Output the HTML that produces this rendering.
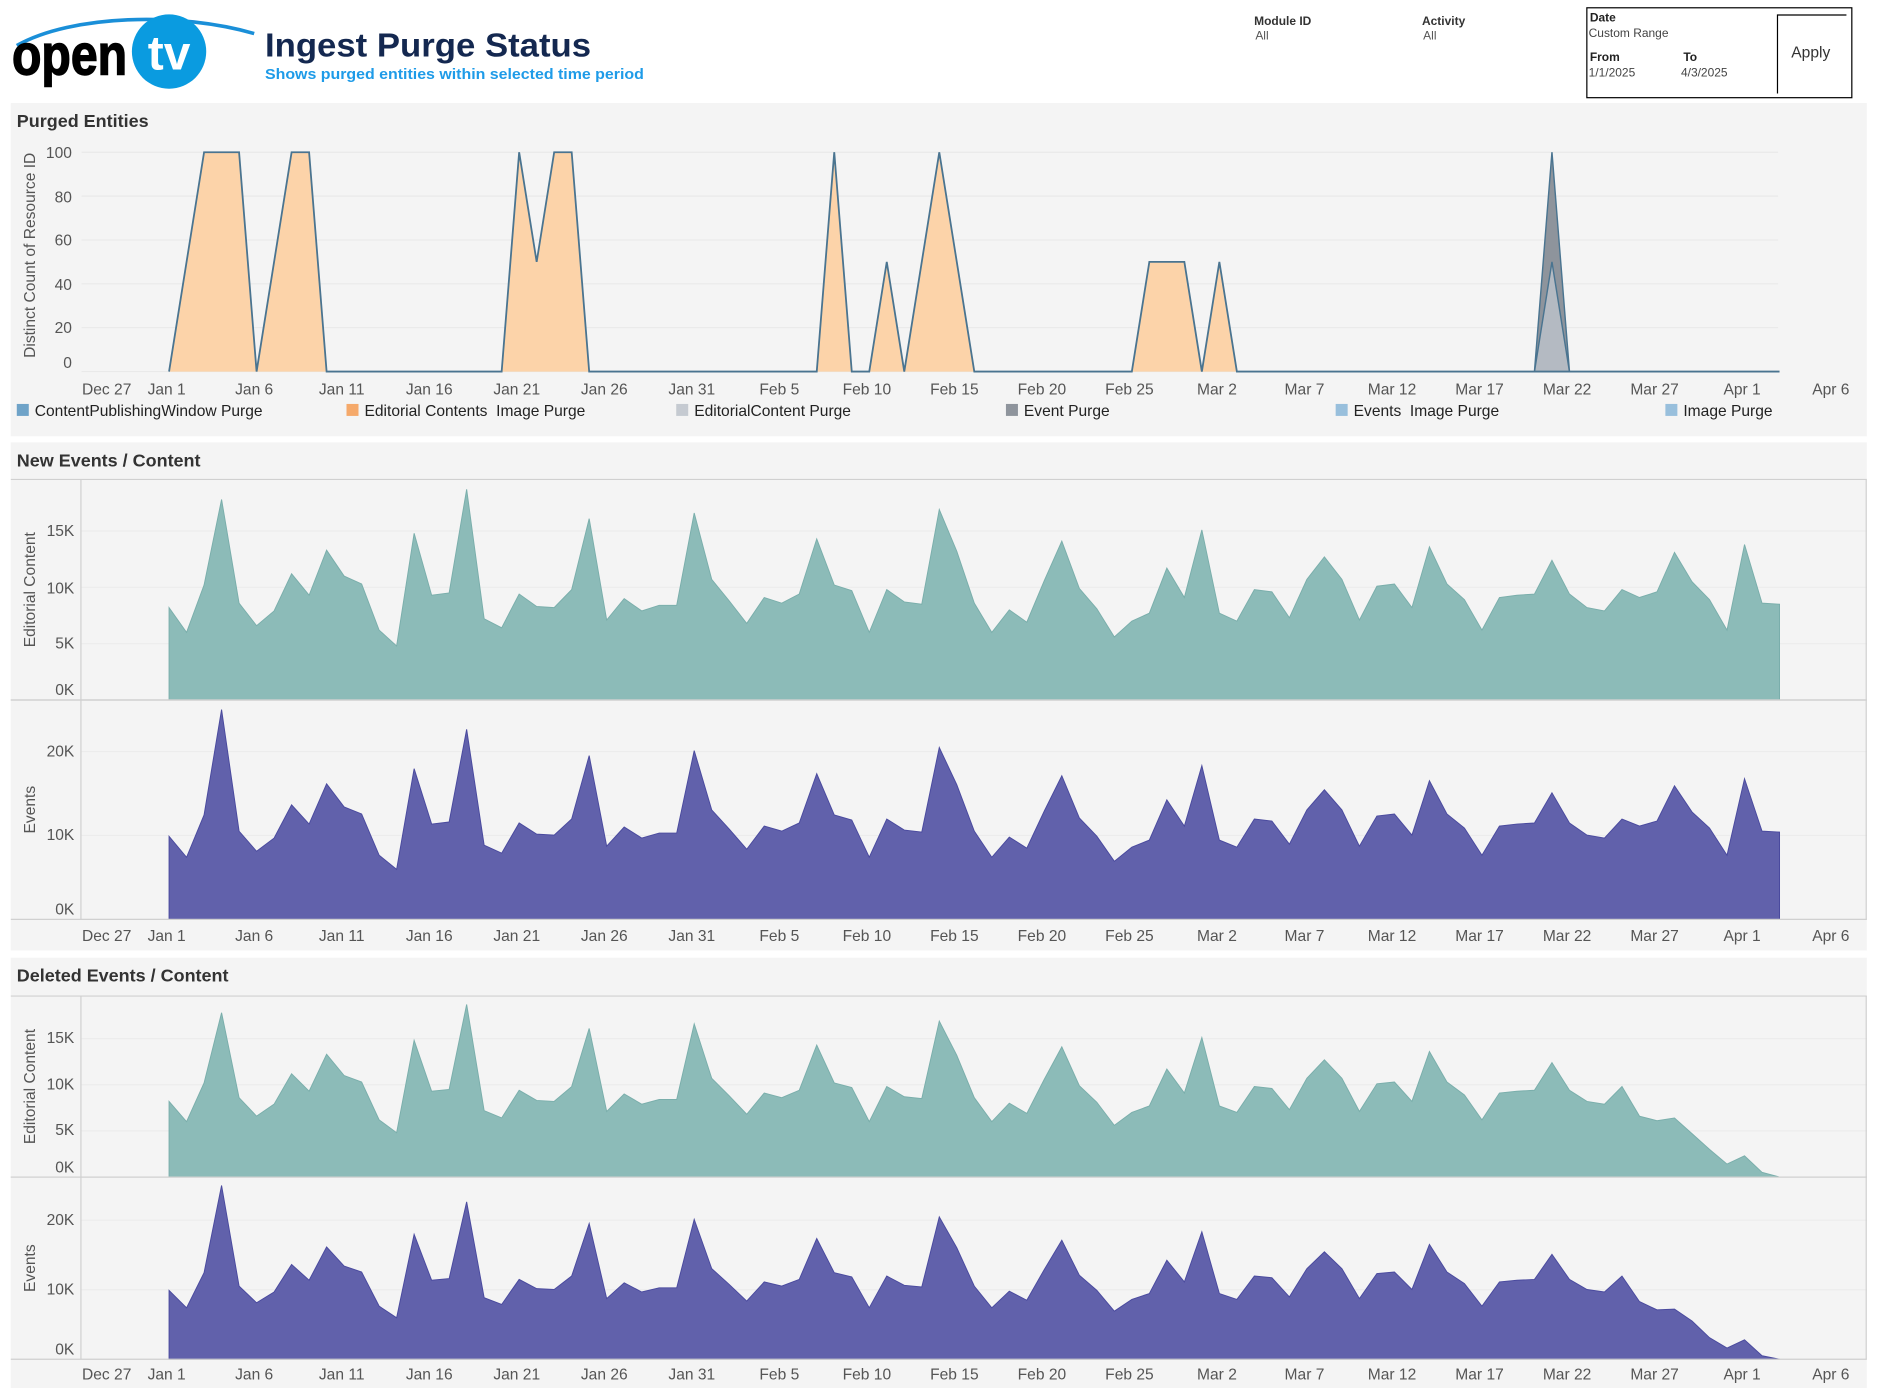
<!DOCTYPE html>
<html><head><meta charset="utf-8"><style>
html,body{margin:0;padding:0;background:#fff;}
svg{display:block;font-family:"Liberation Sans",sans-serif;}
</style></head><body>
<svg id="s" width="1880" height="1400" viewBox="0 0 1568 1168" preserveAspectRatio="none" xmlns="http://www.w3.org/2000/svg">
<rect width="1568" height="1168" fill="#fff"/>
<path d="M14,38 C60,12 150,10 212,28" fill="none" stroke="#1a8fd8" stroke-width="3"/>
<text x="10" y="62" font-size="48" font-weight="bold" fill="#000" stroke="#000" stroke-width="1.2" textLength="96" lengthAdjust="spacingAndGlyphs">open</text>
<circle cx="141" cy="43" r="31" fill="#0a9be0"/>
<text x="141" y="58" font-size="40" font-weight="bold" fill="#fff" text-anchor="middle">tv</text>
<text x="221" y="47" font-size="28" font-weight="bold" fill="#142850" textLength="272" lengthAdjust="spacingAndGlyphs">Ingest Purge Status</text>
<text x="221" y="66" font-size="12.5" font-weight="bold" fill="#1e9be8" textLength="316" lengthAdjust="spacingAndGlyphs">Shows purged entities within selected time period</text>
<text x="1046" y="21" font-size="10" font-weight="bold" fill="#333">Module ID</text>
<text x="1047" y="33" font-size="10" fill="#555">All</text>
<text x="1186" y="21" font-size="10" font-weight="bold" fill="#333">Activity</text>
<text x="1187" y="33" font-size="10" fill="#555">All</text>
<rect x="1323.5" y="6.5" width="221" height="75" fill="none" stroke="#000" stroke-width="1"/>
<text x="1326" y="18" font-size="10" font-weight="bold" fill="#222">Date</text>
<text x="1325" y="31" font-size="10" fill="#444">Custom Range</text>
<text x="1326" y="51" font-size="10" font-weight="bold" fill="#222">From</text>
<text x="1404" y="51" font-size="10" font-weight="bold" fill="#222">To</text>
<text x="1325" y="64" font-size="10" fill="#444">1/1/2025</text>
<text x="1402" y="64" font-size="10" fill="#444">4/3/2025</text>
<path d="M1482.5,78 V12.5 H1540" fill="none" stroke="#000" stroke-width="1"/>
<text x="1494" y="48" font-size="13" fill="#333">Apply</text>
<rect x="9" y="86" width="1548" height="278" fill="#f4f4f4"/>
<rect x="9" y="369" width="1548" height="424" fill="#f4f4f4"/>
<rect x="9" y="799" width="1548" height="359" fill="#f4f4f4"/>
<text x="14" y="106" font-size="15" font-weight="bold" fill="#333">Purged Entities</text>
<text x="14" y="389" font-size="15" font-weight="bold" fill="#333">New Events / Content</text>
<text x="14" y="819" font-size="15" font-weight="bold" fill="#333">Deleted Events / Content</text>
<g id="g"></g>
</svg>
<script>
var g=document.getElementById('g'),h='';
function X(d){return 141+14.6*d;}
function T(x,y,s,o){h+='<text x="'+x+'" y="'+y+'" '+(o||'')+'>'+s+'</text>';}
var y0=310,py=1.83;
for(var v=0;v<=100;v+=20){var yy=y0-v*py;h+='<line x1="68" x2="1483" y1="'+yy+'" y2="'+yy+'" stroke="#e9e9e9"/>';}
[[100,132],[80,169],[60,205],[40,242],[20,278],[0,307]].forEach(function(a){T(60,a[1],a[0],'font-size="13" fill="#555" text-anchor="end"');});
T(0,0,'Distinct Count of Resource ID','font-size="13" fill="#555" text-anchor="middle" transform="translate(29,213) rotate(-90)"');
var pts=[[0,0],[2,100],[4,100],[5,0],[7,100],[8,100],[9,0],[19,0],[20,100],[21,50],[22,100],[23,100],[24,0],[37,0],[38,100],[39,0],[40,0],[41,50],[42,0],[44,100],[46,0],[55,0],[56,50],[58,50],[59,0],[60,50],[61,0],[78,0],[79,0],[80,0],[92,0]];
function P(p){var s='M'+X(p[0][0])+','+y0;p.forEach(function(q){s+=' L'+X(q[0])+','+(y0-q[1]*py);});s+=' L'+X(p[p.length-1][0])+','+y0+'Z';return s;}
h+='<path d="'+P(pts)+'" fill="#fcd3a9"/>';
h+='<path d="'+P([[78,0],[79,100],[80,0]])+'" fill="#8e949c"/>';
h+='<path d="'+P([[78,0],[79,50],[80,0]])+'" fill="#b4bac2"/>';
var l='';pts.forEach(function(q,i){l+=(i?' L':'M')+X(q[0])+','+(y0-q[1]*py);});
h+='<path d="'+l+'" fill="none" stroke="#4a7490" stroke-width="1.5"/>';
h+='<path d="M'+X(78)+','+y0+' L'+X(79)+','+(y0-100*py)+' L'+X(80)+','+y0+' M'+X(78)+','+y0+' L'+X(79)+','+(y0-50*py)+' L'+X(80)+','+y0+'" fill="none" stroke="#4a7490" stroke-width="1.2"/>';
var labs=['Dec 27','Jan 1','Jan 6','Jan 11','Jan 16','Jan 21','Jan 26','Jan 31','Feb 5','Feb 10','Feb 15','Feb 20','Feb 25','Mar 2','Mar 7','Mar 12','Mar 17','Mar 22','Mar 27','Apr 1','Apr 6'];
function XL(y){labs.forEach(function(s,i){var x=i==0?89:139+73*(i-1);if(i==labs.length-1)x=1527;T(x,y,s,'font-size="13" fill="#555" text-anchor="middle"');});}
XL(329);
var lg=[['#6fa3c8','ContentPublishingWindow Purge'],['#f5a96a','Editorial Contents  Image Purge'],['#c5cad1','EditorialContent Purge'],['#8e949c','Event Purge'],['#98bfdc','Events  Image Purge'],['#98bfdc','Image Purge']];
lg.forEach(function(a,i){var x=14+275*i;h+='<rect x="'+x+'" y="337" width="10" height="10" fill="'+a[0]+'"/>';T(x+15,347,a[1],'font-size="13" fill="#222" style="white-space:pre" xml:space="preserve"');});
var ed=[8.2,6.0,10.2,17.8,8.6,6.6,7.9,11.2,9.3,13.3,11.0,10.3,6.2,4.8,14.8,9.3,9.5,18.7,7.2,6.4,9.4,8.3,8.2,9.8,16.1,7.1,9.0,7.9,8.4,8.4,16.6,10.7,8.8,6.8,9.1,8.6,9.4,14.3,10.2,9.7,6.0,9.8,8.7,8.5,16.9,13.2,8.6,6.0,8.0,6.9,10.6,14.1,9.9,8.1,5.6,7.0,7.7,11.7,9.1,15.1,7.7,7.0,9.8,9.6,7.3,10.7,12.7,10.7,7.1,10.1,10.3,8.2,13.6,10.3,8.9,6.2,9.1,9.3,9.4,12.4,9.4,8.2,7.9,9.8,9.1,9.6,13.1,10.5,8.9,6.2,13.8,8.6,8.5];
var ev=ed.map(function(v){return v*1.2+0.2;});ev[3]=25;ev[0]=9.9;
var ded=ed.slice(),dev=ev.slice();
[6.6,6.1,6.4,4.7,3.0,1.4,2.3,0.5,0].forEach(function(v,i){ded[84+i]=v;});
[8.3,7.1,7.2,5.5,3.1,1.6,2.8,0.5,0].forEach(function(v,i){dev[84+i]=v;});
function area(data,base,k,fill,stroke){var s='M'+X(0)+','+base;data.forEach(function(v,i){s+=' L'+X(i)+','+(base-v*k).toFixed(1);});s+=' L'+X(data.length-1)+','+base+'Z';h+='<path d="'+s+'" fill="'+fill+'" stroke="'+stroke+'" stroke-width="0.8"/>';}
function sub(top,base,k,ticks,data,fill,stroke,title){
 ticks.forEach(function(t){var yy=base-t[0]*k;h+='<line x1="68" x2="1557" y1="'+yy+'" y2="'+yy+'" stroke="#ececec"/>';T(62,t[1],t[0]+'K','font-size="13" fill="#555" text-anchor="end"');});
 area(data,base,k,fill,stroke);
 h+='<line x1="67.5" x2="67.5" y1="'+top+'" y2="'+base+'" stroke="#d0d0d0"/>';
 h+='<line x1="9" x2="1557" y1="'+top+'" y2="'+top+'" stroke="#d0d0d0"/>';
 h+='<line x1="9" x2="1557" y1="'+base+'" y2="'+base+'" stroke="#d0d0d0"/>';
 T(0,0,title,'font-size="13" fill="#555" text-anchor="middle" transform="translate(29,'+((top+base)/2)+') rotate(-90)"');
}
sub(400,584,9.4,[[15,447],[10,495],[5,541],[0,580]],ed,'#8cbbb8','#7aaeab','Editorial Content');
sub(584,767,7.0,[[20,631],[10,701],[0,763]],ev,'#6161ab','#4a4a9e','Events');
h+='<line x1="1556.5" x2="1556.5" y1="400" y2="767" stroke="#d0d0d0"/>';
XL(785);
sub(831,982,7.7,[[15,870],[10,909],[5,947],[0,978]],ded,'#8cbbb8','#7aaeab','Editorial Content');
sub(982,1134,5.8,[[20,1022],[10,1080],[0,1130]],dev,'#6161ab','#4a4a9e','Events');
h+='<line x1="1556.5" x2="1556.5" y1="831" y2="1134" stroke="#d0d0d0"/>';
XL(1151);
g.innerHTML=h;
</script>
</body></html>
